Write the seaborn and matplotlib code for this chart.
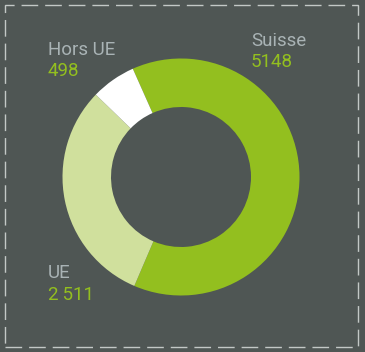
import matplotlib
matplotlib.use("Agg")
import matplotlib.pyplot as plt
from matplotlib.patches import Rectangle
import seaborn as sns

categories = ["Suisse", "UE", "Hors UE"]
values = [5148, 2511, 498]
value_labels = ["5148", "2\u2009511", "498"]

BG = "#4f5654"
colors = ["#93bf1f", "#d0e09d", "#ffffff"]
NAME_C = "#a9b3b5"
VAL_C = "#93bf1f"

sns.set_theme(style="white")
plt.rcParams['font.family'] = ['Roboto', 'DejaVu Sans']

W, H = 365, 352
fig = plt.figure(figsize=(W / 100, H / 100), dpi=100, facecolor=BG)
ax = fig.add_axes([0, 0, 1, 1])
ax.set_facecolor(BG)

cx, cy = 181, H - 177
R, r = 118.5, 70
ax.pie(values, colors=colors, startangle=114, counterclock=False,
       radius=R, center=(cx, cy), wedgeprops=dict(width=R - r, linewidth=0),
       frame=True)
ax.set_xlim(0, W)
ax.set_ylim(0, H)
ax.set_axis_off()

# label positions (x, name baseline, value baseline) in pixel coords from top
pos = {"Suisse": (251, 46, 67), "UE": (48, 278, 300), "Hors UE": (48, 55, 76)}
for cat, vl in zip(categories, value_labels):
    x, yb1, yb2 = pos[cat]
    ax.text(x, H - yb1, cat, color=NAME_C, fontsize=13.5, va="baseline", ha="left")
    ax.text(x, H - yb2, vl, color=VAL_C, fontsize=13.5, va="baseline", ha="left")

rect = Rectangle((5, H - 347), 353, 342, fill=False, edgecolor="#c3c8c6",
                 linewidth=1, linestyle=(0, (12, 5)))
ax.add_patch(rect)

fig.savefig("out.png", dpi=100, facecolor=BG)
